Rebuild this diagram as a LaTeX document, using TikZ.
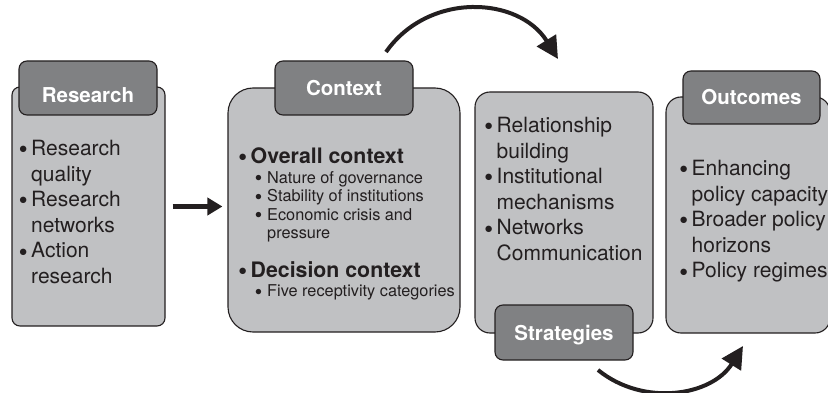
\documentclass[tikz,border=0pt]{standalone}
\usepackage{fontspec}
\setmainfont{TeX Gyre Heros}
\usepackage{xcolor}
\usepackage{tikz}
\usetikzlibrary{arrows.meta,positioning}

\definecolor{panelgray}{RGB}{192,193,195}
\definecolor{tabgray}{RGB}{128,129,131}
\definecolor{inkgray}{RGB}{35,31,32}

\newcommand{\bul}{\makebox[12pt][l]{\raisebox{0.09em}{\scalebox{0.8}{$\bullet$}}}}
\newcommand{\bulgap}{\hspace*{12pt}}

\begin{document}
\begin{tikzpicture}[x=1pt,y=-1pt,
    panel/.style={draw=inkgray, line width=1.1pt, fill=panelgray, inner sep=0pt},
    tab/.style={draw=inkgray, line width=1.1pt, fill=tabgray, rounded corners=8pt,
        minimum width=138pt, minimum height=54pt, inner sep=0pt, text=white,
        font=\fontsize{20.5}{24}\selectfont\bfseries, text height=15pt, text depth=0pt},
    points/.style={anchor=north west, inner sep=0pt, align=left, text=inkgray,
        font=\fontsize{21}{25.6}\selectfont},
    subpoints/.style={anchor=north west, inner sep=0pt, align=left, text=inkgray,
        font=\fontsize{16.3}{18.3}\selectfont},
    headpoint/.style={anchor=north west, inner sep=0pt, text=inkgray,
        font=\fontsize{21.3}{25}\selectfont\bfseries},
    flow/.style={draw=inkgray, line width=4.3pt, -{Triangle[length=15pt,width=17pt]}},
    loop/.style={draw=inkgray, line width=4pt, -{Triangle[length=22pt,width=22pt]}}]
\useasboundingbox (0,0) rectangle (828,393);

\node[panel, rounded corners=8pt, minimum width=153pt, minimum height=239pt] (researchpanel) at (88.5,206.5) {};
\node[tab, text height=28.5pt] (researchtab) at (88,88) {Research};
\node[points] (researchtext) at (19,140) {\bul Research\\ \bulgap quality\\ \bul Research\\ \bulgap networks\\ \bul Action\\ \bulgap research};

\node[panel, rounded corners=25pt, minimum width=232pt, minimum height=244pt] (contextpanel) at (344,210) {};
\node[tab] (contexttab) at (344,88) {Context};
\node[headpoint] (overallhead) at (238.5,147.2) {\bul Overall context};
\node[subpoints] (overalltext) at (255,171.3) {\bul Nature of governance\\ \bul Stability of institutions\\ \bul Economic crisis and\\ \bulgap pressure};
\node[headpoint] (decisionhead) at (238.5,261.2) {\bul Decision context};
\node[subpoints] (decisiontext) at (255,284.8) {\bul Five receptivity categories};

\node[panel, rounded corners=15pt, minimum width=178pt, minimum height=241pt] (strategypanel) at (564,212.5) {};
\node[tab, minimum height=55pt] (strategytab) at (564,332.5) {Strategies};
\node[points] (strategytext) at (484.5,117) {\bul Relationship\\ \bulgap building\\ \bul Institutional\\ \bulgap mechanisms\\ \bul Networks\\ \bulgap Communication};

\node[panel, rounded corners=15pt, minimum width=164pt, minimum height=236pt] (outcomepanel) at (748,215) {};
\node[tab, minimum width=137pt, minimum height=53pt] (outcometab) at (751.5,97.5) {Outcomes};
\node[points] (outcometext) at (679.5,160) {\bul Enhancing\\ \bulgap policy capacity\\ \bul Broader policy\\ \bulgap horizons\\ \bul Policy regimes};

\draw[flow] ([xshift=7pt]researchpanel.east) -- ([xshift=-5pt]researchpanel.east -| contextpanel.west);

\coordinate (upstart) at (386,52);
\coordinate (upend) at (558,59);
\draw[loop] (upstart) .. controls (428.5,-8.6) and (518.8,-3.8) .. (upend);

\coordinate (downstart) at (598,370);
\coordinate (downend) at (743,346);
\draw[loop] (downstart) .. controls (643.8,407.1) and (711.8,395.9) .. (downend);
\end{tikzpicture}
\end{document}
